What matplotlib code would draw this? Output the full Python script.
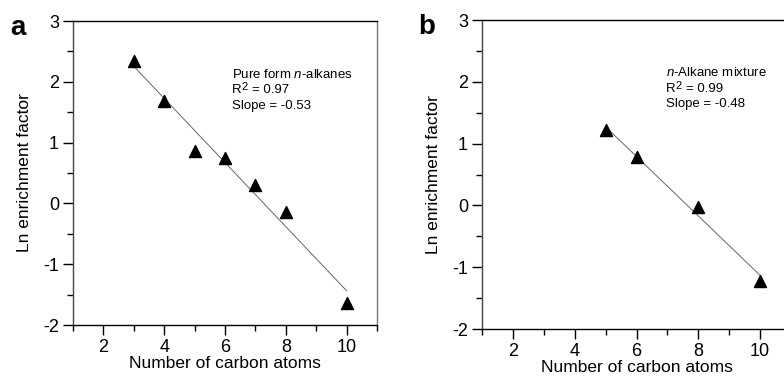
import numpy as np
import matplotlib
matplotlib.use("Agg")
import matplotlib.pyplot as plt
from matplotlib.ticker import MultipleLocator

plt.rcParams['font.family'] = ['Liberation Sans', 'DejaVu Sans']
plt.rcParams['axes.unicode_minus'] = False
plt.rcParams['mathtext.fontset'] = 'custom'
plt.rcParams['mathtext.rm'] = 'Liberation Sans'
plt.rcParams['mathtext.it'] = 'Liberation Sans:italic'

# panel a: pure form n-alkanes
carbon_a = [3, 4, 5, 6, 7, 8, 10]
ln_ef_a = [2.35, 1.69, 0.86, 0.74, 0.31, -0.14, -1.63]

# panel b: n-alkane mixture
carbon_b = [5, 6, 8, 10]
ln_ef_b = [1.22, 0.78, -0.02, -1.22]

titles = ["Pure form $\\it{n}$-alkanes", "$\\it{n}$-Alkane mixture"]
r2_text = ["0.97", "0.99"]
slope_text = ["-0.53", "-0.48"]

fig = plt.figure(figsize=(7.84, 3.79), dpi=100)
ax_a = fig.add_axes([73 / 784, 1 - 325 / 379, 304 / 784, 304 / 379])
ax_b = fig.add_axes([482 / 784, 1 - 329 / 379, 309 / 784, 309 / 379])


def draw_panel(ax, x, y, i, note_xy, letter):
    x = np.array(x)
    y = np.array(y)
    k, b = np.polyfit(x, y, 1)
    xx = np.array([x.min(), x.max()])
    ax.plot(xx, k * xx + b, color='#666666', lw=0.7, zorder=1)
    ax.scatter(x, y, marker='^', s=75, color='black', zorder=2, clip_on=False)
    ax.set_xlim(1, 11)
    ax.set_ylim(-2, 3)
    ax.xaxis.set_major_locator(MultipleLocator(2))
    ax.xaxis.set_minor_locator(MultipleLocator(1))
    ax.yaxis.set_major_locator(MultipleLocator(1))
    ax.yaxis.set_minor_locator(MultipleLocator(0.5))
    ax.tick_params(which='major', length=7, width=1, labelsize=13, pad=3)
    ax.tick_params(which='minor', length=4, width=1)
    ax.tick_params(axis='x', which='both', direction='out')
    ax.set_xlabel("Number of carbon atoms", fontsize=12.5, labelpad=0)
    ax.set_ylabel("Ln enrichment factor", fontsize=12.5, labelpad=8)
    for s in ax.spines.values():
        s.set_linewidth(1)
    ax.spines['right'].set_color('#777777')
    ax.spines['left'].set_color('#444444')

    # annotation block, R2 done by hand so the superscript stays large
    fs = 9.5
    kw = dict(xycoords='data', textcoords='offset points', fontsize=fs,
              va='center', ha='left')
    ax.annotate(titles[i], note_xy, xytext=(0, 0), **kw)
    ax.annotate("R", note_xy, xytext=(0, -11.5), **kw)
    ax.annotate("2", note_xy, xytext=(7.0, -9.5), xycoords='data',
                textcoords='offset points', fontsize=8, va='center', ha='left')
    ax.annotate("= " + r2_text[i], note_xy, xytext=(14.5, -11.5), **kw)
    ax.annotate("Slope = " + slope_text[i], note_xy, xytext=(0, -23), **kw)

    ax.text(-0.205, 1.02, letter, transform=ax.transAxes, fontsize=20,
            fontweight='bold', va='top', ha='left')


draw_panel(ax_a, carbon_a, ln_ef_a, 0, (6.23, 2.125), "a")
draw_panel(ax_b, carbon_b, ln_ef_b, 1, (6.94, 2.15), "b")

fig.savefig("out.png", dpi=100)
